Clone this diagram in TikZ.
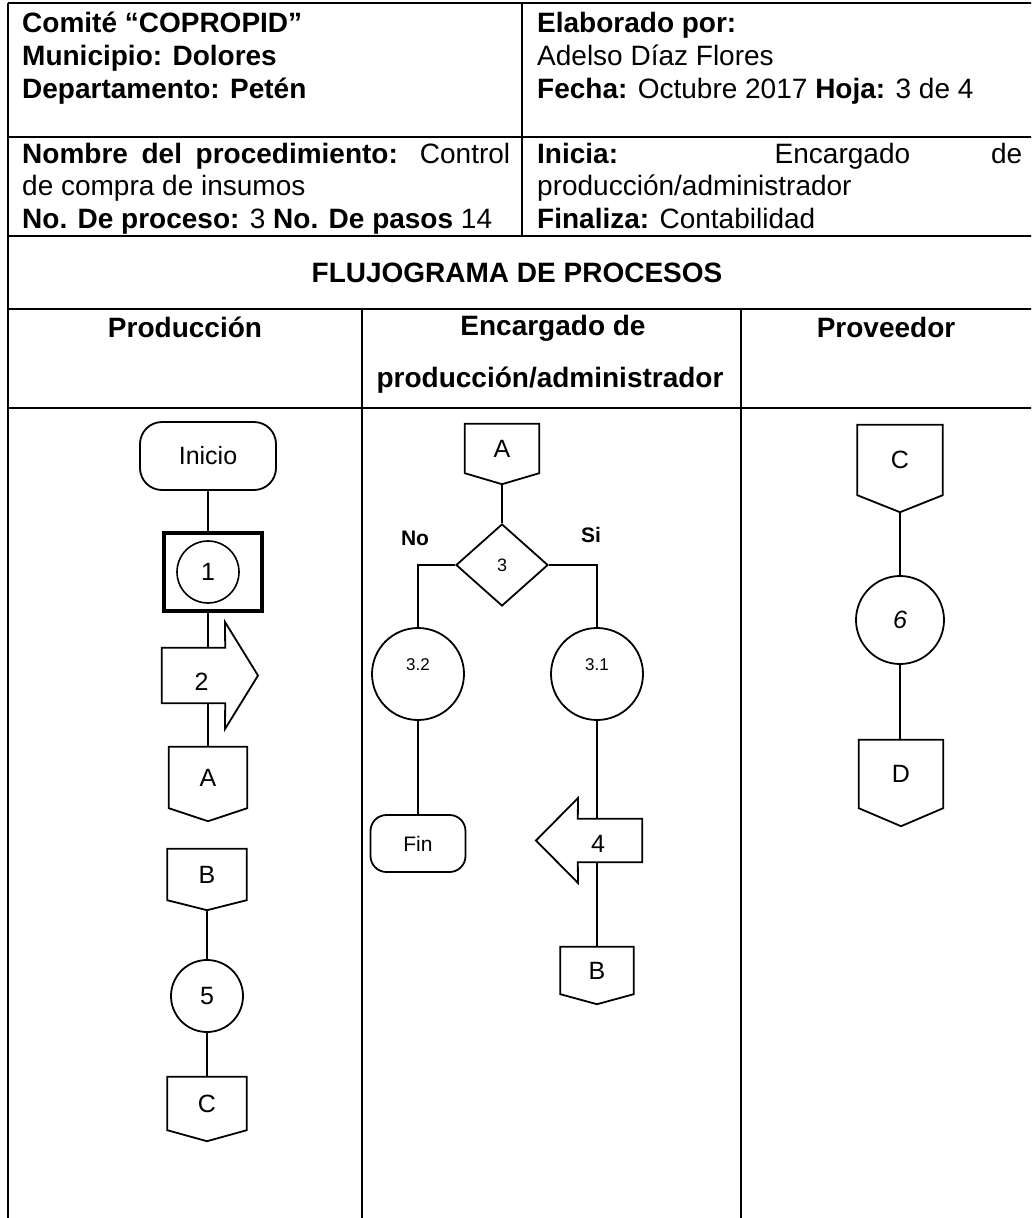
\documentclass[tikz,border=0pt]{standalone}
\usepackage{fontspec}
\setmainfont{Liberation Sans}
\usetikzlibrary{shapes.geometric}
% off-page connector: name, cx, top, width, body height, tip depth, text
\newcommand\offpg[7]{%
  \node[sym, draw=none, inner sep=0pt, minimum width=#4pt, minimum height=#5pt] (#1) at (#2,{#3+#5/2}) {#7};
  \draw[shp] (#1.north west) -- (#1.north east) -- (#1.south east) -- ([yshift=-#6pt]#1.south) -- (#1.south west) -- cycle;}
\begin{document}
\begin{tikzpicture}[x=1pt,y=-1pt,
  tline/.style={line width=2.2pt},
  shp/.style={draw, line width=1.8pt, line join=miter},
  conn/.style={line width=1.4pt},
  hb/.style={font=\fontsize{28}{31}\selectfont, anchor=base west, inner sep=0pt},
  lanehd/.style={font=\fontsize{28}{31}\selectfont\bfseries, anchor=base, inner sep=0pt},
  sym/.style={font=\fontsize{25}{29}\selectfont},
  lbl/.style={font=\fontsize{17}{20}\selectfont, inner sep=0pt},
  yn/.style={font=\fontsize{21}{24}\selectfont\bfseries, inner sep=0pt},
  circ/.style={draw, circle, line width=1.8pt, inner sep=0pt}
]
\useasboundingbox (0,0) rectangle (1031,1218);
\clip (0,0) rectangle (1031,1218);
\fill[white] (0,0) rectangle (1031,1218);

% ---- table frame
\draw[tline] (8,3) -- (1040,3);
\draw[tline] (8,3) -- (8,1222);
\draw[tline] (8,137) -- (1040,137);
\draw[tline] (8,236) -- (1040,236);
\draw[tline] (8,309) -- (1040,309);
\draw[tline] (8,408) -- (1040,408);
\draw[tline] (522,3) -- (522,236);
\draw[tline] (362,309) -- (362,1222);
\draw[tline] (741,309) -- (741,1222);

% ---- header texts
\node[hb] (h1) at (22,32) {\textbf{Comité “COPROPID”}};
\node[hb] (h2) at (22,65) {\textbf{Municipio: Dolores}};
\node[hb] (h3) at (22,98) {\textbf{Departamento: Petén}};
\node[hb] (h4) at (537,32) {\textbf{Elaborado por:}};
\node[hb] (h5) at (537,65) {Adelso Díaz Flores};
\node[hb] (h6) at (537,98) {\textbf{Fecha:} Octubre 2017 \textbf{Hoja:} 3 de 4};
\node[hb] (h7) at (22,163) {\makebox[488pt][s]{\textbf{Nombre del procedimiento:} Control}};
\node[hb] (h8) at (22,195.5) {de compra de insumos};
\node[hb] (h9) at (22,228) {\textbf{No. De proceso:} 3 \textbf{No. De pasos} 14};
\node[hb] (h10) at (537,163) {\makebox[485pt][s]{\textbf{Inicia:} Encargado de}};
\node[hb] (h11) at (537,195.5) {producción/administrador};
\node[hb] (h12) at (537,228) {\textbf{Finaliza:} Contabilidad};

\node[lanehd] (title) at (517,282) {FLUJOGRAMA DE PROCESOS};
\node[lanehd] (l1) at (185,337) {Producción};
\node[lanehd] (l2a) at (553,335) {Encargado de};
\node[lanehd] (l2b) at (550,387) {producción/administrador};
\node[lanehd] (l3) at (886,337) {Proveedor};

% ---- lane 1: Produccion
\node[sym, draw, line width=1.8pt, rounded corners=22pt, minimum width=136pt, minimum height=68pt] (ini) at (208,456) {Inicio};
\node[draw, line width=3.6pt, minimum width=98pt, minimum height=78pt] (b1) at (213,572) {};
\node[circ, sym, line width=1.6pt, minimum size=62pt] (c1) at (208,572) {1};
\node[inner sep=0pt, minimum width=63pt, minimum height=55pt, label={[sym, xshift=8pt, yshift=-6pt]center:2}] (s2) at (193.5,675.5) {};
\draw[shp] (s2.north west) -- (s2.north east) -- (225,622) -- (258,675.5) -- (225,729) -- (s2.south east) -- (s2.south west) -- cycle;
\offpg{pA}{208}{747}{78}{61}{13}{A}
\offpg{pB}{207}{849}{79}{51}{10}{B}
\node[circ, sym, minimum size=72pt] (c5) at (207,996) {5};
\offpg{pC}{207}{1077}{79}{53}{11}{C}

\draw[conn] (ini.south) -- (ini.south |- b1.north);
\draw[conn] (c1 |- b1.south) -- (c1 |- s2.north);
\draw[conn] (c1 |- s2.south) -- (pA.north);
\draw[conn] ([yshift=-10pt]pB.south) -- (c5.north);
\draw[conn] (c5.south) -- (pC.north);

% ---- lane 2: Encargado
\offpg{mA}{502}{424}{74}{49}{11}{A}
\node[draw, diamond, line width=1.8pt, inner sep=0pt, minimum width=92pt, minimum height=82pt, font=\fontsize{18}{20}\selectfont] (d3) at (502,565) {3};
\node[yn] (no) at (415,538) {No};
\node[yn] (si) at (591,535) {Si};
\node[circ, minimum size=92pt, label={[lbl, yshift=9pt]center:3.2}] (c32) at (418,674) {};
\node[circ, minimum size=92pt, label={[lbl, yshift=9pt]center:3.1}] (c31) at (597,674) {};
\node[draw, line width=1.8pt, rounded corners=16pt, minimum width=95pt, minimum height=57pt, font=\fontsize{21}{24}\selectfont] (fin) at (418,843.5) {Fin};
\node[inner sep=0pt, minimum width=64pt, minimum height=43pt, label={[sym, xshift=-12pt, yshift=-3pt]center:4}] (s4) at (610,840.5) {};
\draw[shp] (s4.north east) -- (s4.north west) -- (578,798) -- (536,840.5) -- (578,883) -- (s4.south west) -- (s4.south east) -- cycle;
\offpg{mB}{597}{947}{73}{47}{10}{B}

\draw[conn] ([yshift=-11pt]mA.south) -- (d3.north);
\draw[conn] (d3.west) -| (c32.north);
\draw[conn] (d3.east) -| (c31.north);
\draw[conn] (c32.south) -- (fin.north);
\draw[conn] (c31.south) -- (c31.south |- s4.north);
\draw[conn] (c31.south |- s4.south) -- (mB.north);

% ---- lane 3: Proveedor
\offpg{rC}{900}{425}{85}{70}{17}{C}
\node[circ, sym, minimum size=88pt] (c6) at (900,620) {\textit{6}};
\offpg{rD}{901}{740}{84}{68}{18}{D}

\draw[conn] ([yshift=-17pt]rC.south) -- (c6.north);
\draw[conn] (c6.south) -- (c6.south |- rD.north);
\end{tikzpicture}
\end{document}
